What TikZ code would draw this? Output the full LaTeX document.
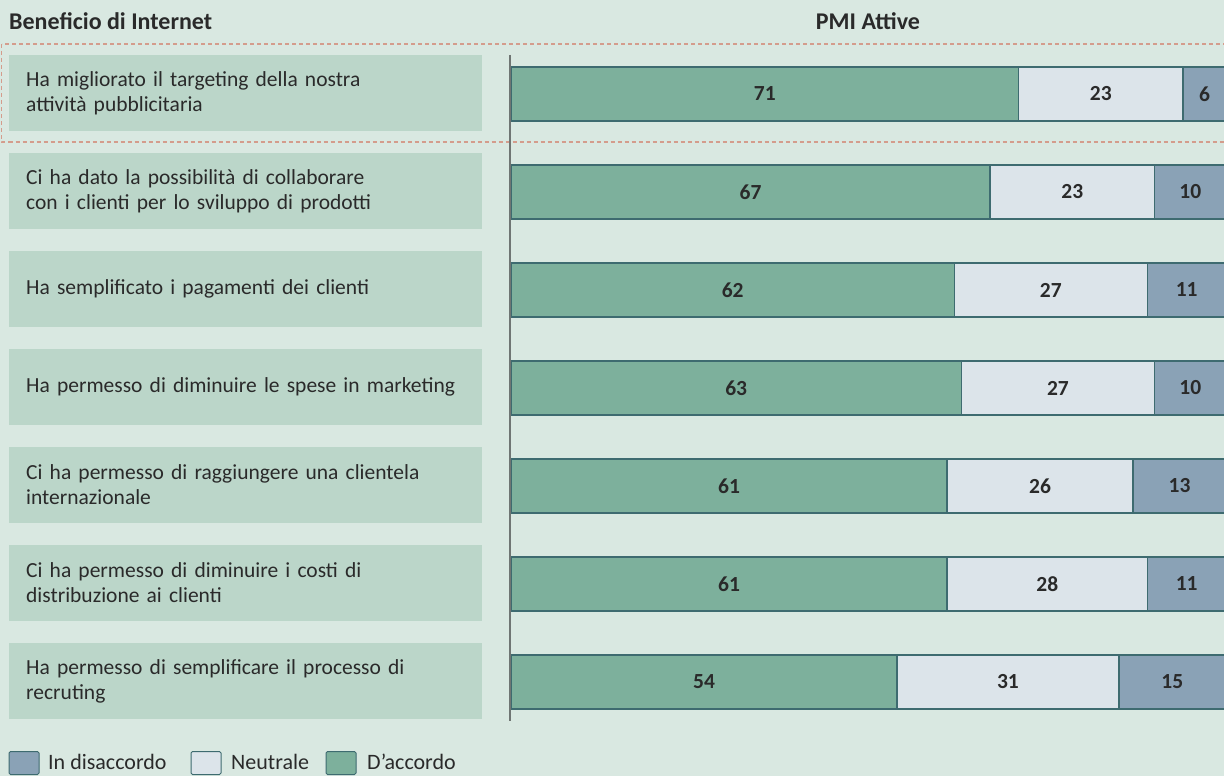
\documentclass[tikz,border=0pt]{standalone}
\usepackage{fontspec}
\setmainfont{Carlito}
\definecolor{bg}{HTML}{D9E8E1}
\definecolor{lbl}{HTML}{BBD6C9}
\definecolor{agree}{HTML}{7DB09C}
\definecolor{neut}{HTML}{DCE4EA}
\definecolor{dis}{HTML}{8AA2B6}
\definecolor{edge}{HTML}{3E6B70}
\definecolor{dashc}{HTML}{D49C8C}
\definecolor{txt}{HTML}{2A2A2A}
\definecolor{axisc}{HTML}{6F7573}
\begin{document}
\begin{tikzpicture}[x=1pt,y=-1pt,
  lblbox/.style={fill=lbl, anchor=west, minimum height=76pt, text width=439pt, inner xsep=17pt, inner ysep=0pt, align=left, text=txt, font=\fontsize{21.5}{25}\selectfont},
  seg/.style={draw=edge, line width=1.6pt, minimum height=54pt, inner sep=0pt, outer sep=0pt, anchor=west, text=txt, font=\bfseries\fontsize{21.5}{22}\selectfont},
  head/.style={anchor=base, text=txt, font=\bfseries\fontsize{24}{26}\selectfont, inner sep=0pt},
  legsq/.style={draw=edge, line width=1pt, rounded corners=1.5pt, minimum width=30pt, minimum height=23pt, inner sep=0pt},
  legtxt/.style={anchor=west, text=txt, font=\fontsize{22}{24}\selectfont, inner sep=0pt},
  sel/.style={draw=dashc, line width=1.2pt, dash pattern=on 4pt off 3pt}
]
\fill[bg] (0,0) rectangle (1224,776);
\useasboundingbox (0,0) rectangle (1224,776);
\clip (0,0) rectangle (1224,776);

% headers
\node[head, anchor=base west] (h1) at (9,30) {Beneficio di Internet};
\node[head] (h2) at (868,30) {PMI Attive};

% selection
\draw[sel] (1.5,44) rectangle (1230,142);

% labels
\node[lblbox] (l1) at (9,93) {Ha migliorato il targeting della nostra\\attività pubblicitaria};
\node[lblbox] (l2) at (9,191) {Ci ha dato la possibilità di collaborare\\con i clienti per lo sviluppo di prodotti};
\node[lblbox] (l3) at (9,289) {Ha semplificato i pagamenti dei clienti};
\node[lblbox] (l4) at (9,387) {Ha permesso di diminuire le spese in marketing};
\node[lblbox] (l5) at (9,485) {Ci ha permesso di raggiungere una clientela\\internazionale};
\node[lblbox] (l6) at (9,583) {Ci ha permesso di diminuire i costi di\\distribuzione ai clienti};
\node[lblbox] (l7) at (9,681) {Ha permesso di semplificare il processo di\\recruting};

% bars
\foreach \i/\a/\n/\d in {1/71/23/6, 2/67/23/10, 3/62/27/11, 4/63/27/10, 5/61/26/13, 6/61/28/11, 7/54/31/15}{
  \pgfmathsetmacro\cy{94+(\i-1)*98}
  \node[seg, fill=agree, minimum width={\a*7.15pt}] (b\i a) at (511,\cy) {\a};
  \node[seg, fill=neut, minimum width={\n*7.15pt}] (b\i n) at (b\i a.east) {\n};
  \node[seg, fill=dis, minimum width={\d*7.15pt}] (b\i d) at (b\i n.east) {\d};
}

% axis
\draw[axisc, line width=2pt] (510,55) -- (510,721);

% legend
\node[legsq, fill=dis] (q1) at (24,763) {};
\node[legtxt] (t1) at (48,762) {In disaccordo};
\node[legsq, fill=neut] (q2) at (206,763) {};
\node[legtxt] (t2) at (231,762) {Neutrale};
\node[legsq, fill=agree] (q3) at (341,763) {};
\node[legtxt] (t3) at (367,762) {D’accordo};
\end{tikzpicture}
\end{document}
